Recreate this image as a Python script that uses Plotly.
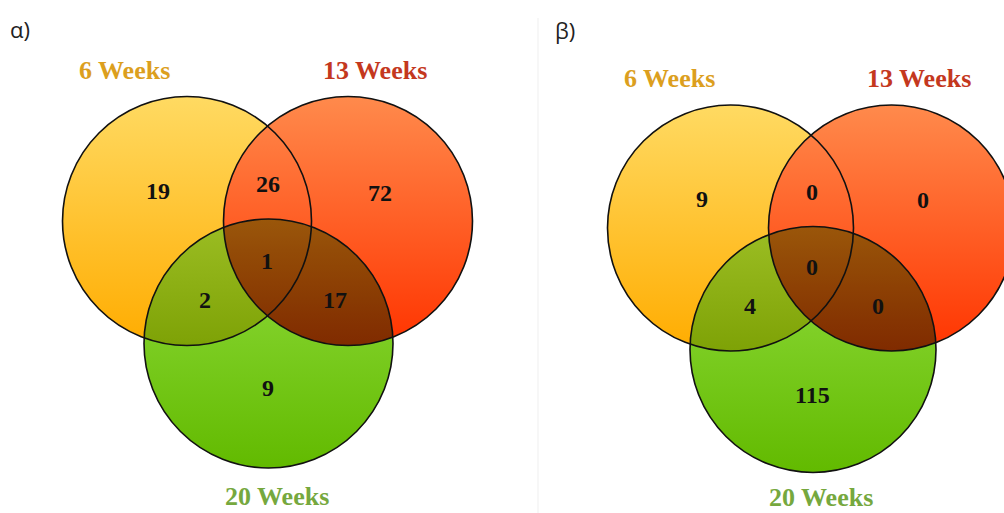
import numpy as np
import plotly.graph_objects as go

# ---- data -------------------------------------------------------------
panel_titles = ["α)", "β)"]
set_labels = ["6 Weeks", "13 Weeks", "20 Weeks"]
# region order: only 6, 6&13, only 13, all three, 6&20, 13&20, only 20
region_names = ["6", "6&13", "13", "6&13&20", "6&20", "13&20", "20"]
counts_alpha = [19, 26, 72, 1, 2, 17, 9]
counts_beta = [9, 0, 0, 0, 4, 0, 115]
panel_counts = [counts_alpha, counts_beta]

# ---- layout (pixel space, y grows downward) ---------------------------
W, H = 1004, 513
circle_geo = [  # (cx, cy, r) for 6, 13, 20 weeks
    [(187, 221, 124.5), (348, 221, 124.5), (268.5, 343.5, 124.5)],
    [(730.5, 228, 123), (891.5, 228, 123), (813, 349.5, 123)],
]
label_pos = [
    [(124, 70), (375, 70), (277, 496)],
    [(669.5, 78), (919, 78), (820.5, 497)],
]
count_pos = [
    [(158, 191), (268, 184), (380, 193), (267, 261), (205, 300), (335, 300), (268, 388)],
    [(702, 199), (812, 192), (923, 200), (812, 267), (750, 306), (878, 306), (812, 395)],
]
title_pos = [(20, 29), (565, 30)]

# top / bottom colours of each circle's vertical gradient
grad_cols = [
    ((255, 218, 98), (255, 172, 0)),   # 6 weeks: yellow -> amber
    ((255, 138, 76), (255, 52, 0)),    # 13 weeks: orange -> red
    ((148, 222, 66), (98, 186, 0)),    # 20 weeks: light -> deep green
]
# 6&20 overlap shade (top, bottom)
olive_cols = ((156, 190, 36), (126, 162, 6))
label_cols = ["#dc9f1e", "#c4381e", "#76a83e"]


def rgb(c):
    return "rgb(%d,%d,%d)" % tuple(int(round(v)) for v in c)


def circle_pts(cx, cy, r, n=240):
    t = np.linspace(0, 2 * np.pi, n, endpoint=False)
    return cx + r * np.cos(t), cy + r * np.sin(t)


def grad_at(idx, geo, y):
    cx, cy, r = geo[idx]
    f = np.clip((y - (cy - r)) / (2 * r), 0, 1)
    a, b = np.array(grad_cols[idx][0]), np.array(grad_cols[idx][1])
    return a + (b - a) * f


def lens_pts(c1, c2, n=600):
    xs, ys = [], []
    for a, b in ((c1, c2), (c2, c1)):
        x, y = circle_pts(*a, n=n)
        inside = (x - b[0]) ** 2 + (y - b[1]) ** 2 <= b[2] ** 2
        xs.extend(x[inside]); ys.extend(y[inside])
    xs, ys = np.array(xs), np.array(ys)
    mx, my = xs.mean(), ys.mean()
    order = np.argsort(np.arctan2(ys - my, xs - mx))
    return xs[order], ys[order]


fig = go.Figure()

for p, geo in enumerate(circle_geo):
    # the three sets, each with its own vertical gradient
    for i in range(3):
        cx, cy, r = geo[i]
        x, y = circle_pts(cx, cy, r)
        fig.add_trace(go.Scatter(
            x=np.append(x, x[0]), y=np.append(y, y[0]), mode="lines",
            fill="toself", line=dict(width=0), hoverinfo="skip", showlegend=False,
            fillgradient=dict(type="vertical", start=cy - r, stop=cy + r,
                              colorscale=[[0, rgb(grad_cols[i][0])], [1, rgb(grad_cols[i][1])]]),
        ))
    # overlaps of the 20-week set
    for j in (0, 1):
        x, y = lens_pts(geo[j], geo[2])
        y0, y1 = y.min(), y.max()
        if j == 0:
            stops = [[0, rgb(olive_cols[0])], [1, rgb(olive_cols[1])]]
        else:
            stops = []
            for k in range(9):
                f = k / 8
                yy = y0 + (y1 - y0) * f
                c = grad_at(j, geo, yy) * grad_at(2, geo, yy) / 255.0 * 1.04
                stops.append([f, rgb(np.clip(c, 0, 255))])
        fig.add_trace(go.Scatter(
            x=np.append(x, x[0]), y=np.append(y, y[0]), mode="lines",
            fill="toself", line=dict(width=0), hoverinfo="skip", showlegend=False,
            fillgradient=dict(type="vertical", start=y0, stop=y1, colorscale=stops),
        ))
    # outlines
    for cx, cy, r in geo:
        fig.add_shape(type="circle", x0=cx - r, x1=cx + r, y0=cy - r, y1=cy + r,
                      line=dict(color="#111111", width=1.6), fillcolor="rgba(0,0,0,0)")
    # set labels
    for i, (lx, ly) in enumerate(label_pos[p]):
        fig.add_annotation(x=lx, y=ly, text="<b>%s</b>" % set_labels[i], showarrow=False,
                           font=dict(family="Liberation Serif", size=26, color=label_cols[i]))
    # region counts
    for v, (nx, ny) in zip(panel_counts[p], count_pos[p]):
        fig.add_annotation(x=nx, y=ny, text="<b>%d</b>" % v, showarrow=False,
                           font=dict(family="Liberation Serif", size=24, color="#111111"))
    # panel letter
    fig.add_annotation(x=title_pos[p][0], y=title_pos[p][1], text=panel_titles[p],
                       showarrow=False, font=dict(family="Open Sans", size=22, color="#222222"))

# faint divider between the two panels
fig.add_shape(type="line", x0=538, x1=538, y0=18, y1=H, line=dict(color="#efefef", width=1),
              layer="below")

fig.update_layout(
    width=W, height=H, margin=dict(l=0, r=0, t=0, b=0),
    paper_bgcolor="white", plot_bgcolor="white",
    xaxis=dict(range=[0, W], visible=False, fixedrange=True),
    yaxis=dict(range=[H, 0], visible=False, fixedrange=True),
)

fig.write_html("out.html")
